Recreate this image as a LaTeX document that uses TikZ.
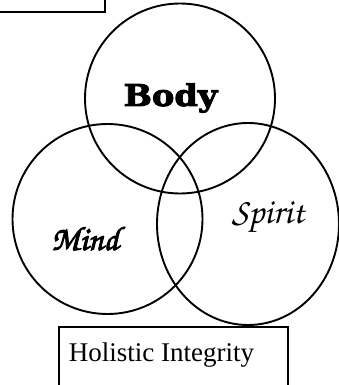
\documentclass[tikz,border=0pt]{standalone}
\usepackage[T1]{fontenc}
\usepackage{fontspec}
\setmainfont{Liberation Serif}
\newfontfamily\slabfont[FakeBold=3,FakeStretch=1.12]{DejaVu Serif Bold}
\usetikzlibrary{positioning}
\newcommand{\chancery}{\fontencoding{T1}\fontfamily{pzc}\fontseries{m}\fontshape{it}\selectfont}
\newcommand{\heavyink}[1]{\special{pdf:literal direct 2 Tr 0.9 w}#1\special{pdf:literal direct 0 Tr}}

\begin{document}
\begin{tikzpicture}[x=1pt,y=-1pt,line width=1.9pt]
  \useasboundingbox (0,0) rectangle (339,385);
  \def\r{95}
  % corner box and circles
  \draw[line width=2.2pt] (-10,-10) rectangle (105,12);
  \draw (180,98.5) circle[radius=\r];
  \draw (107.5,219) circle[radius=\r];
  \draw (248,224) ellipse[x radius=91,y radius=101];
  % labels
  \node[anchor=base] (body) at (170.5,106) {\slabfont\fontsize{30}{33}\selectfont Body};
  \node[anchor=base] (mind) at (85,250) {\chancery\fontsize{34}{38}\selectfont\heavyink{Mind}};
  \node[anchor=base] (spirit) at (268,223) {\chancery\fontsize{36}{40}\selectfont Spirit};
  % caption box
  \draw[line width=2.2pt] (59,327) rectangle (288,400);
  \node[anchor=base west,inner sep=0pt] (holistic) at (68,361) {\fontsize{27}{30}\selectfont Holistic Integrity};
\end{tikzpicture}
\end{document}
